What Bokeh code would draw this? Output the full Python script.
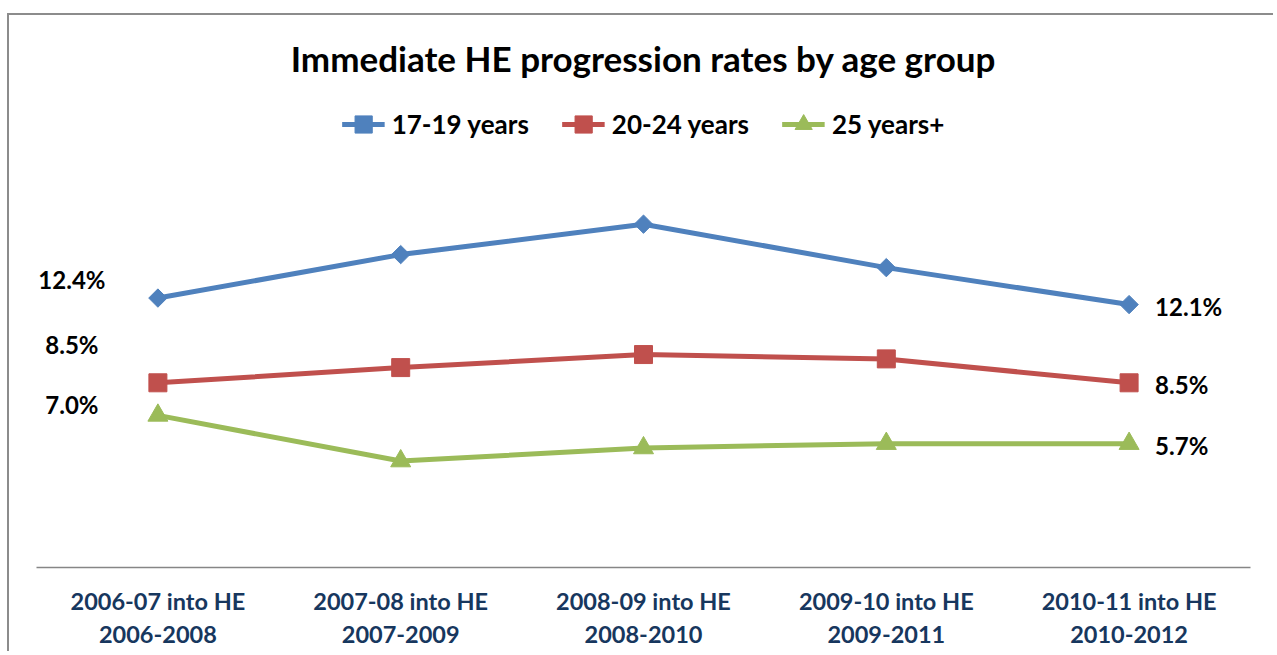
from bokeh.plotting import figure
from bokeh.models import FactorRange, Range1d, Legend, LegendItem, ColumnDataSource
from bokeh.core.properties import value
from bokeh.embed import file_html
from bokeh.resources import INLINE
import numpy as np

# ---------------- data ----------------
categories = [
    "2006-07 into HE\n2006-2008",
    "2007-08 into HE\n2007-2009",
    "2008-09 into HE\n2008-2010",
    "2009-10 into HE\n2009-2011",
    "2010-11 into HE\n2010-2012",
]
series_names = ["17-19 years", "20-24 years", "25 years+"]
rate_17_19 = [12.4, 14.4, 15.8, 13.8, 12.1]
rate_20_24 = [8.5, 9.2, 9.8, 9.6, 8.5]
rate_25_plus = [7.0, 4.9, 5.5, 5.7, 5.7]
title_text = "Immediate HE progression rates by age group"

# ---------------- styles ----------------
FONT = "Lato"
colors = ["#4F81BD", "#C0504D", "#9BBB59"]
markers = ["square", "square", "triangle"]
marker_angles = [np.pi / 4, 0.0, 0.0]
marker_sizes = [13, 18, 20]
# first-point label offsets (screen px) per series
first_label_dy = [-19, -38, -11]
first_label_dx = -86
last_label_dx = 26
last_label_dy = 2

p = figure(
    x_range=FactorRange(*categories),
    y_range=Range1d(0, 21.4),
    width=1266, height=638,
    output_backend="svg", toolbar_location=None,
    min_border_left=27, min_border_right=25,
    min_border_top=85, min_border_bottom=86,
)
p.styles = {"border-left": "2px solid #8c8c8c", "border-top": "2px solid #8c8c8c",
            "margin-top": "13px", "margin-left": "7px"}
p.outline_line_color = None
p.xgrid.visible = False
p.ygrid.visible = False
p.yaxis.visible = False

p.title.text = title_text
p.title.align = "center"
p.title.vertical_align = "top"
p.title.text_font = FONT
p.title.text_font_size = "35px"
p.title.text_font_style = "bold"
p.title.text_color = "#000000"
p.title.standoff = 43

ax = p.xaxis[0]
ax.axis_line_color = "#868686"
ax.axis_line_width = 1.5
ax.major_tick_line_color = None
ax.minor_tick_line_color = None
ax.major_label_text_font = FONT
ax.major_label_text_font_size = "23.5px"
ax.major_label_text_font_style = "bold"
ax.major_label_text_color = "#17375E"
ax.major_label_standoff = 13

series = [rate_17_19, rate_20_24, rate_25_plus]
items = []
for i, (name, vals) in enumerate(zip(series_names, series)):
    src = ColumnDataSource(dict(x=categories, y=vals))
    lr = p.line("x", "y", source=src, line_color=colors[i], line_width=5)
    sr = p.scatter("x", "y", source=src, marker=markers[i], size=marker_sizes[i],
                   angle=marker_angles[i], fill_color=colors[i], line_color=colors[i])
    items.append(LegendItem(label=name, renderers=[lr, sr]))

    lab = ColumnDataSource(dict(
        x=[categories[0], categories[-1]],
        y=[vals[0], vals[-1]],
        t=[f"{vals[0]:.1f}%", f"{vals[-1]:.1f}%"],
        dx=[first_label_dx, last_label_dx],
        dy=[first_label_dy[i], last_label_dy],
        al=["center", "left"],
    ))
    p.text("x", "y", text="t", source=lab, x_offset="dx", y_offset="dy",
           text_align="al", text_baseline="middle",
           text_font=value(FONT), text_font_size="24px", text_font_style="bold",
           text_color="#000000")

legend = Legend(items=items, location="top_center", orientation="horizontal",
                border_line_color=None, background_fill_alpha=0,
                label_text_font=FONT, label_text_font_size="26px",
                label_text_font_style="bold", label_text_color="#000000",
                glyph_width=43, glyph_height=44, spacing=33, label_standoff=7,
                padding=0, margin=0)
p.add_layout(legend)

open("out.html", "w").write(file_html(p, INLINE))
